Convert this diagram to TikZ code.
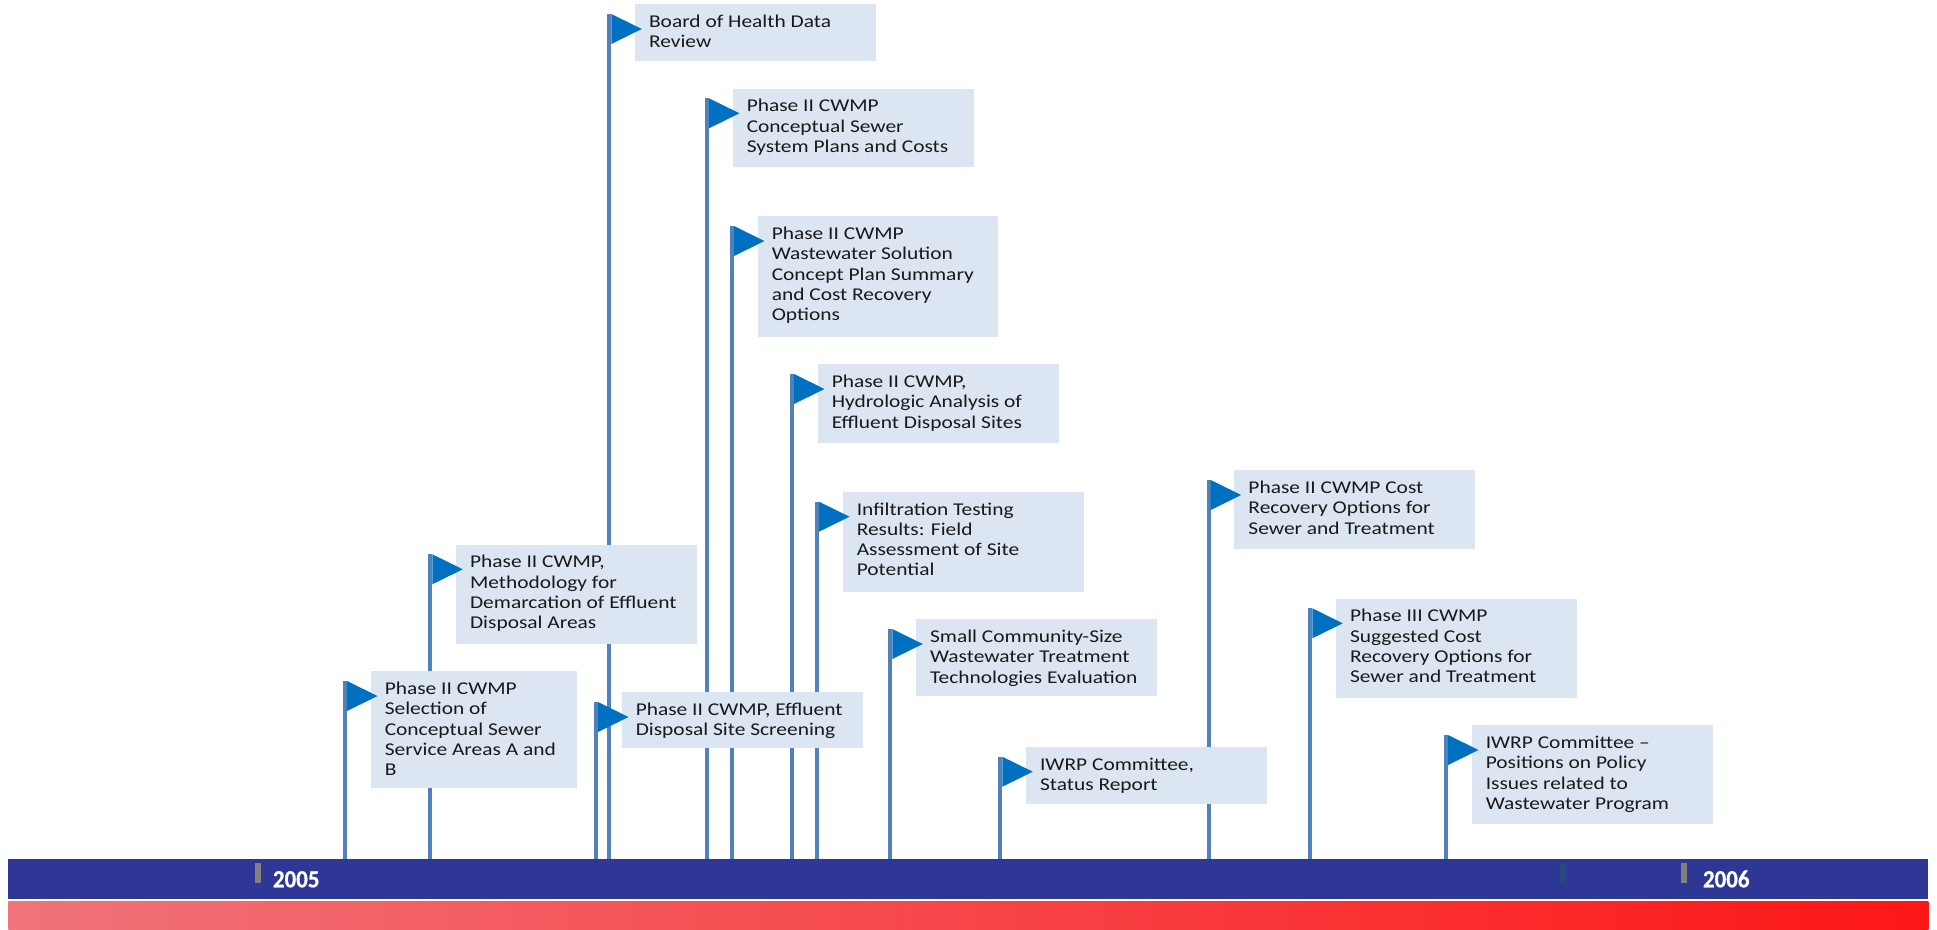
\documentclass[tikz,border=0pt]{standalone}
\usepackage{fontspec}
\setmainfont{Carlito}
\newfontfamily\evfont{Carlito}[FakeStretch=1.19]
\newfontfamily\yearfont{Carlito}[UprightFont=*-Bold, FakeStretch=0.93, FakeBold=0.6]
\usetikzlibrary{calc}

\definecolor{barblue}{RGB}{46,54,150}
\definecolor{poleblue}{RGB}{79,129,189}
\definecolor{flagblue}{RGB}{0,112,192}
\definecolor{boxfill}{RGB}{220,230,242}
\definecolor{tickgray}{RGB}{128,128,128}
\definecolor{tickdark}{RGB}{38,74,122}
\definecolor{stripleft}{RGB}{240,116,122}
\definecolor{stripright}{RGB}{254,22,22}

\tikzset{
  pole/.style={draw=poleblue, line width=3pt},
  flag/.style={fill=flagblue},
  eventbox/.style={fill=boxfill, anchor=north west, inner sep=0pt},
  eventtext/.style={anchor=north west, inner sep=0pt, align=left, text=black!90,
    font=\evfont\fontsize{13.5}{15.15}\selectfont},
  year/.style={text=white, font=\yearfont\fontsize{18.5}{21}\selectfont,
    anchor=base west, inner sep=0pt},
}

% texts of the events
\newcommand{\evtext}[1]{\ifcase#1\or
  Phase II CWMP\\Selection of\\Conceptual Sewer\\Service Areas A and\\B\or
  Phase II CWMP,\\Methodology for\\Demarcation of Effluent\\Disposal Areas\or
  Phase II CWMP, Effluent\\Disposal Site Screening\or
  Board of Health Data\\Review\or
  Phase II CWMP\\Conceptual Sewer\\System Plans and Costs\or
  Phase II CWMP\\Wastewater Solution\\Concept Plan Summary\\and Cost Recovery\\Options\or
  Phase II CWMP,\\Hydrologic Analysis of\\Effluent Disposal Sites\or
  Infiltration Testing\\Results: Field\\Assessment of Site\\Potential\or
  Small Community-Size\\Wastewater Treatment\\Technologies Evaluation\or
  IWRP Committee,\\Status Report\or
  Phase II CWMP Cost\\Recovery Options for\\Sewer and Treatment\or
  Phase III CWMP\\Suggested Cost\\Recovery Options for\\Sewer and Treatment\or
  IWRP Committee \textendash\\Positions on Policy\\Issues related to\\Wastewater Program\fi}

% pole left x / box top y / box width / box height  (units: px)
\def\eventlist{
  1/343/671/206/117,
  2/428.3/544.3/240.7/99,
  3/594/692/241/56,
  4/607.3/4/241/57,
  5/705/88.3/241/78.4,
  6/730/216/240/120.7,
  7/790/364/241/78.7,
  8/815/491.7/241/100,
  9/888.3/619/241/76.7,
  10/998.3/746.7/240.7/56.6,
  11/1206.7/470/241/78.3,
  12/1308.3/598.3/240.7/99,
  13/1444/725/241/99}

\begin{document}
\begin{tikzpicture}[x=0.75pt, y=-0.75pt]
  \useasboundingbox (0,0) rectangle (1937,929);

  % timeline bars
  \node[fill=barblue, anchor=north west, inner sep=0pt,
        minimum width=1440pt, minimum height=30pt] (bar) at (8,859) {};
  \node[left color=stripleft, right color=stripright, anchor=north west, inner sep=0pt,
        minimum width=1440pt, minimum height=21pt] (strip) at (8,901) {};

  % year ticks and labels
  \fill[tickgray] (255,863) rectangle (261,883);
  \fill[tickgray] (1681,863) rectangle (1687,883);
  \fill[tickdark] (1560,863) rectangle (1566,883);
  \node[year] (y2005) at (272.7,887.3) {2005};
  \node[year] (y2006) at (1702.7,887.3) {2006};

  % flag poles
  \foreach \i/\px/\py/\bw/\bh in \eventlist {
    \coordinate (t\i) at (\px+2,\py+10);
    \draw[pole] (t\i) -- (t\i |- bar.north);
  }

  % event boxes with their texts
  \foreach \i/\px/\py/\bw/\bh in \eventlist {
    \node[eventbox, minimum width=\bw*0.75pt, minimum height=\bh*0.75pt]
      (box\i) at (\px+27.5,\py) {};
    \node[eventtext] (lbl\i) at ($(box\i.north west)+(14,5.33)$)
      {\rule{0pt}{13.5pt}\evtext{\i}};
  }

  % flags
  \foreach \i/\px/\py/\bw/\bh in \eventlist {
    \fill[flag] ($(t\i)+(2,0)$) -- ($(t\i)+(2,30)$) -- ($(t\i)+(32.5,15)$) -- cycle;
  }
\end{tikzpicture}
\end{document}
